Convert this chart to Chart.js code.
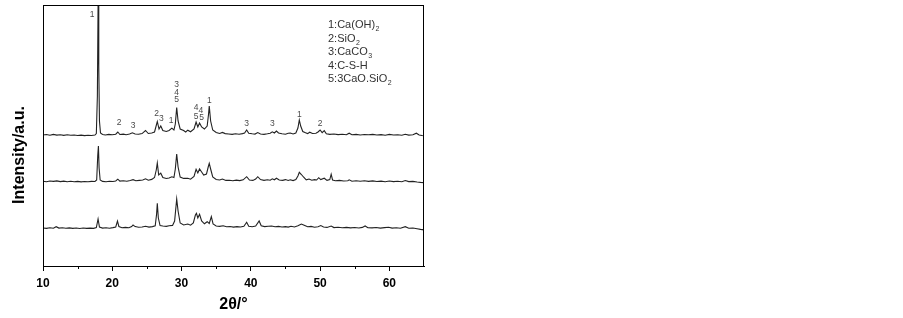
<!DOCTYPE html>
<html>
<head>
<meta charset="utf-8">
<script src="https://cdn.jsdelivr.net/npm/chart.js@4.4.1/dist/chart.umd.min.js"></script>
<style>
  html, body { margin: 0; padding: 0; background: #fff; }
  #wrap { width: 903px; height: 318px; }
</style>
</head>
<body>
<div id="wrap"><canvas id="xrd" width="903" height="318"></canvas></div>
<script>
// 2θ positions and intensities (arbitrary units, stacked traces)
const topTheta = [10.0, 10.5, 11.0, 11.5, 12.0, 12.5, 13.0, 13.5, 14.0, 14.5, 15.0, 15.5, 16.0, 16.5, 17.0, 17.5, 17.7, 17.85, 17.95, 18.05, 18.15, 18.3, 18.6, 19.0, 19.5, 20.0, 20.5, 20.8, 21.1, 21.6, 22.0, 22.5, 22.9, 23.3, 23.8, 24.3, 24.8, 25.2, 25.7, 26.1, 26.5, 26.75, 27.0, 27.3, 27.8, 28.2, 28.6, 28.9, 29.1, 29.3, 29.5, 29.8, 30.3, 30.6, 30.9, 31.3, 31.8, 32.1, 32.35, 32.6, 32.9, 33.3, 33.7, 33.9, 34.0, 34.2, 34.5, 35.0, 35.5, 35.9, 36.3, 36.8, 37.3, 37.8, 38.3, 38.8, 39.1, 39.4, 39.7, 40.2, 40.6, 41.0, 41.4, 41.9, 42.4, 42.8, 43.1, 43.4, 43.7, 44.0, 44.5, 45.0, 45.4, 45.7, 46.1, 46.5, 46.8, 47.0, 47.2, 47.5, 47.9, 48.2, 48.5, 48.9, 49.4, 49.7, 50.0, 50.3, 50.6, 50.9, 51.4, 52.0, 52.6, 53.2, 53.8, 54.2, 54.6, 55.2, 55.8, 56.4, 57.0, 57.6, 58.2, 58.8, 59.4, 60.0, 60.6, 61.2, 61.8, 62.3, 62.8, 63.4, 63.9, 64.3, 64.7, 65.0];
const topCounts = [131.0, 131.5, 130.8, 131.6, 130.9, 131.3, 130.6, 131.2, 130.7, 131.0, 130.5, 130.9, 130.4, 130.8, 130.5, 131.0, 132.5, 170, 261, 200, 145, 133, 131.5, 131.0, 131.6, 131.2, 131.8, 134.0, 131.5, 131.9, 131.3, 132.0, 133.2, 132.0, 131.8, 132.4, 135.5, 132.5, 133.0, 134.0, 144.5, 137, 140, 135.5, 134.5, 135.5, 137.8, 136, 142, 158.5, 145, 137, 135.5, 134, 135.8, 134.2, 137, 144, 139, 143, 139, 137, 140, 152, 160, 145, 136, 133.5, 132.5, 133.6, 132.4, 132.0, 131.6, 132.2, 131.8, 132.4, 133, 136, 132.8, 132.2, 131.9, 133.4, 132.0, 131.6, 132.2, 132.8, 134.2, 133.0, 135.0, 133.0, 132.3, 131.8, 132.8, 133.0, 132.0, 133.0, 138, 146, 140, 134.5, 133.2, 132.4, 133.8, 132.5, 132.8, 134, 136, 133.4, 135.4, 132.2, 131.6, 132.0, 131.4, 131.8, 131.2, 132.8, 131.3, 131.6, 131.0, 131.5, 131.2, 131.6, 131.0, 131.4, 130.8, 131.6, 131.0, 131.3, 130.7, 131.8, 130.9, 131.2, 132.8, 131.0, 130.5, 130.2];

const midTheta = [10.0, 10.5, 11.0, 11.5, 12.0, 12.5, 13.0, 13.5, 14.0, 14.5, 15.0, 15.5, 16.0, 16.5, 17.0, 17.5, 17.75, 17.9, 18.0, 18.1, 18.25, 18.6, 19.1, 19.6, 20.1, 20.5, 20.8, 21.1, 21.6, 22.1, 22.6, 23.0, 23.4, 23.9, 24.4, 24.8, 25.2, 25.7, 26.1, 26.35, 26.5, 26.7, 27.0, 27.3, 27.8, 28.2, 28.6, 28.9, 29.1, 29.3, 29.5, 29.8, 30.3, 30.9, 31.3, 31.8, 32.1, 32.35, 32.6, 32.9, 33.2, 33.6, 33.85, 34.0, 34.2, 34.5, 35.0, 35.5, 35.9, 36.4, 36.9, 37.4, 37.9, 38.4, 38.9, 39.4, 39.8, 40.3, 40.7, 41.0, 41.4, 41.9, 42.4, 42.8, 43.1, 43.4, 43.7, 44.1, 44.6, 45.0, 45.4, 45.7, 46.1, 46.5, 46.8, 47.0, 47.3, 47.6, 48.0, 48.4, 48.8, 49.2, 49.5, 49.8, 50.1, 50.6, 51.0, 51.4, 51.6, 51.8, 52.2, 52.8, 53.4, 54.0, 54.2, 54.6, 55.2, 55.8, 56.4, 57.0, 57.6, 58.2, 58.8, 59.4, 60.0, 60.6, 61.2, 61.8, 62.3, 62.8, 63.4, 64.0, 64.5, 65.0];
const midCounts = [84.8, 84.3, 85.0, 84.6, 85.1, 84.4, 84.9, 84.3, 84.7, 84.2, 84.6, 84.1, 84.5, 84.2, 84.6, 84.5, 86, 110, 120, 98, 86, 84.6, 84.3, 84.8, 84.5, 85.0, 86.8, 84.9, 85.2, 84.8, 85.5, 86.3, 85.2, 85.6, 86.0, 87.2, 85.8, 86.6, 88.5, 96, 103, 91, 92.8, 88.5, 87.5, 88.0, 89.2, 88.5, 97, 112, 99, 89, 87.6, 87.8, 86.8, 89.5, 96.7, 93, 97, 94, 91, 92, 99, 102.7, 97, 89, 86.5, 86.0, 87.0, 85.6, 85.8, 85.3, 85.9, 85.4, 86.2, 89.3, 86.0, 85.6, 87.0, 89.3, 86.4, 85.6, 86.2, 85.8, 87.2, 86.2, 87.8, 86.0, 85.6, 86.4, 85.5, 86.2, 85.4, 86.4, 90, 93.7, 91.5, 89, 86.2, 87.0, 85.8, 86.4, 86.0, 88.3, 86.4, 87.8, 85.6, 86.4, 91.8, 86.0, 85.2, 85.6, 85.0, 85.3, 86.2, 84.8, 85.3, 84.7, 85.2, 84.6, 85.1, 84.5, 84.9, 84.3, 85.0, 84.4, 84.8, 84.3, 85.5, 84.4, 84.6, 84.0, 83.6, 83.3];

const lowTheta = [10.0, 10.5, 11.0, 11.5, 11.9, 12.3, 12.8, 13.3, 13.8, 14.3, 14.8, 15.3, 15.8, 16.3, 16.8, 17.3, 17.7, 17.95, 18.15, 18.6, 19.1, 19.6, 20.1, 20.5, 20.75, 20.95, 21.4, 21.9, 22.4, 22.8, 23.0, 23.3, 23.8, 24.3, 24.8, 25.3, 25.8, 26.2, 26.4, 26.5, 26.65, 26.9, 27.3, 27.8, 28.2, 28.7, 29.0, 29.3, 29.5, 29.8, 30.3, 30.9, 31.3, 31.7, 32.0, 32.15, 32.35, 32.6, 32.9, 33.3, 33.7, 34.0, 34.3, 34.55, 35.0, 35.5, 36.0, 36.5, 37.0, 37.5, 38.0, 38.5, 39.0, 39.4, 39.7, 40.2, 40.7, 41.2, 41.5, 42.0, 42.5, 43.0, 43.5, 44.0, 44.5, 45.0, 45.4, 45.8, 46.3, 46.8, 47.3, 47.7, 48.2, 48.7, 49.2, 49.7, 50.1, 50.5, 51.0, 51.6, 52.0, 52.6, 53.2, 53.8, 54.4, 55.0, 55.6, 56.1, 56.5, 56.9, 57.5, 58.1, 58.7, 59.3, 59.9, 60.4, 61.0, 61.6, 62.3, 62.8, 63.4, 64.0, 64.5, 65.0];
const lowCounts = [38.0, 37.6, 38.2, 37.8, 39.3, 37.9, 38.3, 37.7, 38.1, 37.6, 38.0, 37.5, 38.0, 37.6, 37.9, 37.6, 38.4, 47, 39, 37.9, 38.2, 37.8, 38.4, 39.0, 45, 39.5, 38.3, 38.6, 38.2, 39.4, 41, 39.4, 38.8, 39.0, 39.8, 38.9, 39.4, 40.2, 52, 62.7, 48, 40.4, 40.0, 39.6, 40.2, 40.6, 45, 67, 55, 43, 41.0, 42.0, 40.8, 43.0, 51, 52.7, 48, 51.7, 45, 42.2, 44.3, 42.5, 49.3, 42, 40.0, 39.6, 40.3, 39.2, 39.5, 38.9, 39.4, 39.0, 39.8, 43.7, 39.8, 39.3, 40.0, 45.0, 40.2, 39.4, 39.8, 40.0, 39.2, 39.6, 39.0, 39.4, 38.9, 39.8, 39.0, 40.2, 42.0, 40.8, 39.2, 39.6, 38.8, 39.3, 40.4, 39.0, 38.6, 40.0, 38.4, 38.8, 38.2, 38.6, 38.1, 38.5, 38.0, 38.6, 40.0, 38.3, 38.1, 38.5, 37.9, 38.4, 38.8, 37.9, 38.3, 37.8, 39.3, 37.7, 38.0, 37.2, 36.6, 36.1];

const xTicks = [10, 20, 30, 40, 50, 60];

// phase markers on the top pattern
const markText = ["1", "2", "3", "2", "3", "1", "3", "4", "5", "4", "5", "4", "5", "1", "3", "3", "1", "2"];
const markTheta = [17.1, 21.0, 23.0, 26.4, 27.1, 28.5, 29.3, 29.3, 29.3, 32.1, 32.1, 32.8, 32.9, 34.0, 39.4, 43.1, 47.0, 50.0];
const markLevel = [251, 143, 140, 152.7, 147.7, 145.3, 181, 173.5, 166, 158.7, 149.3, 155, 148.3, 165.3, 142, 142, 151, 142.7];

// legend of phases: main text and subscript
const phaseNames = ["1:Ca(OH)", "2:SiO", "3:CaCO", "4:C-S-H", "5:3CaO.SiO"];
const phaseSubs = ["2", "2", "3", "", "2"];

function pairs(xs, ys) {
  return xs.map((x, i) => ({ x, y: ys[i] }));
}

const lineStyle = {
  borderColor: "#222",
  borderWidth: 1.1,
  pointRadius: 0,
  tension: 0,
  fill: false,
};

const frameAndText = {
  id: "frameAndText",
  afterDraw(chart) {
    const { ctx, chartArea: a, scales } = chart;
    const xs = scales.x, ys = scales.y;
    ctx.save();
    // box
    ctx.strokeStyle = "#000";
    ctx.lineWidth = 1;
    ctx.strokeRect(Math.round(a.left) + 0.5, Math.round(a.top) + 0.5,
      Math.round(a.right - a.left) - 1, Math.round(a.bottom - a.top));
    // minor ticks
    ctx.beginPath();
    for (let v = 15; v < 65; v += 10) {
      const px = Math.round(xs.getPixelForValue(v)) + 0.5;
      ctx.moveTo(px, a.bottom);
      ctx.lineTo(px, a.bottom + 3);
    }
    ctx.stroke();

    // peak markers
    ctx.fillStyle = "#4a4a4a";
    ctx.font = "8.5px Arial, 'Liberation Sans', sans-serif";
    ctx.textAlign = "center";
    ctx.textBaseline = "middle";
    markText.forEach((t, i) => {
      ctx.fillText(t, xs.getPixelForValue(markTheta[i]), ys.getPixelForValue(markLevel[i]));
    });

    // phase legend
    ctx.fillStyle = "#333";
    ctx.textAlign = "left";
    ctx.textBaseline = "middle";
    phaseNames.forEach((name, i) => {
      const x = 328, y = 25 + i * 13.6;
      ctx.font = "11px Arial, 'Liberation Sans', sans-serif";
      ctx.fillText(name, x, y);
      if (phaseSubs[i]) {
        const w = ctx.measureText(name).width;
        ctx.font = "7px Arial, 'Liberation Sans', sans-serif";
        ctx.fillText(phaseSubs[i], x + w + 0.5, y + 4);
      }
    });

    // y axis title
    ctx.fillStyle = "#000";
    ctx.font = "bold 16px Arial, 'Liberation Sans', sans-serif";
    ctx.textAlign = "center";
    ctx.translate(20, 155);
    ctx.rotate(-Math.PI / 2);
    ctx.fillText("Intensity/a.u.", 0, 0);
    ctx.restore();
  },
};

new Chart(document.getElementById("xrd"), {
  type: "line",
  data: {
    datasets: [
      { label: "top", data: pairs(topTheta, topCounts), ...lineStyle },
      { label: "middle", data: pairs(midTheta, midCounts), ...lineStyle },
      { label: "bottom", data: pairs(lowTheta, lowCounts), ...lineStyle },
    ],
  },
  options: {
    responsive: false,
    animation: false,
    layout: { padding: { top: 5, right: 479, left: 0, bottom: 0 } },
    plugins: {
      legend: { display: false },
      tooltip: { enabled: false },
    },
    scales: {
      x: {
        type: "linear",
        min: 10,
        max: 65,
        afterBuildTicks: (scale) => {
          scale.ticks = xTicks.map((v) => ({ value: v }));
        },
        afterFit: (scale) => { scale.height = 52; },
        ticks: {
          color: "#000",
          padding: 5,
          maxRotation: 0,
          font: { family: "Arial, 'Liberation Sans', sans-serif", size: 12, weight: "bold" },
        },
        grid: { drawOnChartArea: false, drawTicks: true, tickLength: 5, tickColor: "#000" },
        border: { display: true, color: "#000", width: 1 },
        title: {
          display: true,
          text: "2θ/°",
          color: "#000",
          padding: { top: 2, bottom: 4 },
          font: { family: "Arial, 'Liberation Sans', sans-serif", size: 16, weight: "bold" },
        },
      },
      y: {
        min: 0,
        max: 261,
        afterFit: (scale) => { scale.width = 43; },
        ticks: { display: false },
        grid: { display: false },
        border: { display: true, color: "#000", width: 1 },
      },
    },
  },
  plugins: [frameAndText],
});
</script>
</body>
</html>
